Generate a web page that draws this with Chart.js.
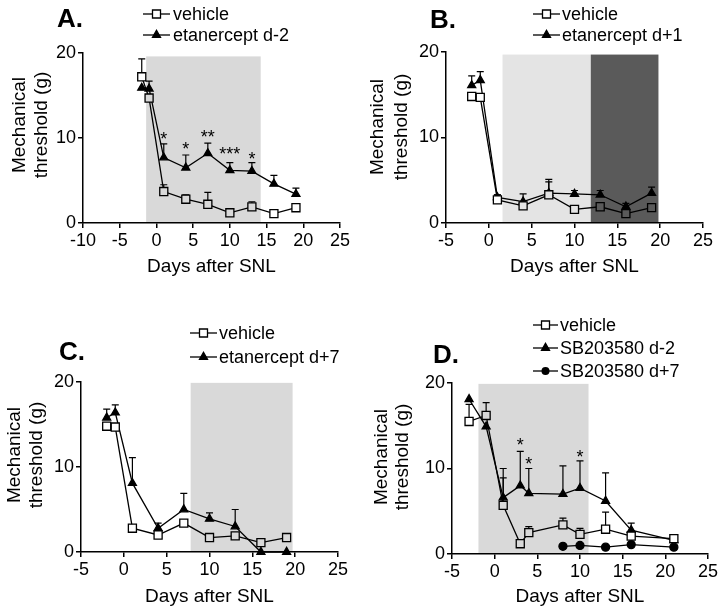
<!DOCTYPE html>
<html><head><meta charset="utf-8">
<script src="https://cdn.jsdelivr.net/npm/chart.js@4.4.1/dist/chart.umd.min.js"></script>
<style>
html,body{margin:0;padding:0;background:#fff;}
#wrap{position:relative;width:720px;height:612px;overflow:hidden;background:#fff;}
canvas{position:absolute;}
</style></head><body>
<div id="wrap">
<canvas id="cA" width="360" height="300" style="left:0px;top:0px;width:360px;height:300px"></canvas>
<canvas id="cB" width="360" height="300" style="left:360px;top:0px;width:360px;height:300px"></canvas>
<canvas id="cC" width="360" height="312" style="left:0px;top:300px;width:360px;height:312px"></canvas>
<canvas id="cD" width="360" height="312" style="left:360px;top:300px;width:360px;height:312px"></canvas>
</div>
<script>
// ---------------- DATA ----------------
// Panel A
const daysA = [-2, -1, 1, 4, 7, 10, 13, 16, 19];
const vehicleA = [17.2, 14.7, 3.7, 2.8, 2.2, 1.2, 1.9, 1.1, 1.8];
const vehicleSemA = [2.1, 0, 0.8, 0.5, 1.4, 0, 0.6, 0, 0.3];
const etanerceptA = [15.9, 15.8, 7.7, 6.5, 8.2, 6.2, 6.1, 4.6, 3.4];
const etanerceptSemA = [0, 0.9, 1.6, 1.5, 1.2, 0.9, 1.0, 1.0, 0.7];
const starDaysA = [1, 4, 7, 10, 13];
const starLevelA = [10.4, 9.2, 10.6, 8.6, 8.0];
const starTextA = ['*', '*', '**', '***', '*'];
const shadeA = [-1.4, 14.2, 19.6];

// Panel B
const daysB = [-2, -1, 1, 4, 7, 10, 13, 16, 19];
const vehicleB = [14.8, 14.7, 2.7, 2.0, 3.3, 1.6, 1.9, 1.1, 1.8];
const vehicleSemB = [0, 0, 0.6, 0, 1.5, 0, 0.5, 0, 0];
const etanerceptB = [16.1, 16.7, 3.0, 2.5, 3.5, 3.4, 3.3, 1.9, 3.5];
const etanerceptSemB = [1.1, 1.0, 0.3, 0.9, 1.6, 0.4, 0.5, 0.4, 0.7];
const shadeLightB = [1.6, 11.9, 19.7];
const shadeDarkB = [11.9, 19.8, 19.7];

// Panel C
const daysC = [-2, -1, 1, 4, 7, 10, 13, 16, 19];
const vehicleC = [14.8, 14.7, 2.8, 2.0, 3.4, 1.7, 1.9, 1.1, 1.7];
const vehicleSemC = [0, 0, 0, 0, 0, 0, 0, 0, 0.3];
const etanerceptC = [15.8, 16.4, 8.1, 2.8, 5.0, 3.9, 3.0, 0, 0];
const etanerceptSemC = [1.0, 0.9, 3.0, 0.6, 1.9, 0.7, 2.0, 0, 0];
const shadeC = [7.8, 19.7, 19.9];

// Panel D
const daysD = [-3, -1, 1, 3, 4, 8, 10, 13, 16, 21];
const vehicleD = [15.5, 16.2, 5.7, 1.2, 2.5, 3.4, 2.3, 2.9, 2.1, 1.8];
const vehicleSemD = [2.0, 1.5, 3.2, 0, 0.7, 0.8, 0.7, 2.0, 0, 0];
const sbPreD = [18.1, 14.9, 6.6, 8.0, 7.1, 7.0, 7.7, 6.2, 2.8, 1.6];
const sbPreSemD = [0, 0, 3.4, 4.0, 2.9, 3.3, 3.2, 3.3, 0.8, 0];
const daysPostD = [8, 10, 13, 16, 21];
const sbPostD = [0.9, 1.0, 0.8, 1.1, 0.8];
const starDaysD = [3, 4, 10];
const starLevelD = [13.2, 11.0, 11.8];
const starTextD = ['*', '*', '*'];
const shadeD = [-1.9, 11.0, 19.9];

const xTicksA = [-10, 25];
const xTicksBCD = [-5, 25];

// ---------------- DRAWING ----------------
const F = 'Arial, "Liberation Sans", Helvetica, sans-serif';
const LIGHT = '#d9d9d9';

function pts(days, vals) { return days.map((d, i) => ({x: d, y: vals[i]})); }

function drawMarker(ctx, style, x, y) {
  ctx.save();
  ctx.lineWidth = 1.3; ctx.strokeStyle = '#000'; ctx.fillStyle = '#000';
  ctx.beginPath();
  if (style === 'rect') {
    const s = 4;
    ctx.fillStyle = '#fff';
    ctx.rect(x - s, y - s, 2 * s, 2 * s); ctx.fill(); ctx.stroke();
  } else if (style === 'triangle') {
    const r = 4.6;
    ctx.moveTo(x, y - r); ctx.lineTo(x + 0.866 * r, y + 0.5 * r); ctx.lineTo(x - 0.866 * r, y + 0.5 * r);
    ctx.closePath(); ctx.fill(); ctx.stroke();
  } else {
    ctx.arc(x, y, 4, 0, Math.PI * 2); ctx.fill();
  }
  ctx.restore();
}

function makePanel(id, p) {
  const shadeColorAt = (xv) => {
    let c = '#ffffff';
    p.shades.forEach(s => { if (xv >= s[0] && xv <= s[1]) c = s[3]; });
    return c;
  };
  const decor = {
    id: 'decor' + id,
    beforeDraw(chart) {
      const {ctx, scales: {x, y}} = chart;
      ctx.save();
      p.shades.forEach(s => {
        const x0 = x.getPixelForValue(s[0]), x1 = x.getPixelForValue(s[1]);
        const yt = y.getPixelForValue(s[2]), yb = y.getPixelForValue(0);
        ctx.fillStyle = s[3];
        ctx.fillRect(x0, yt, x1 - x0, yb - yt);
      });
      ctx.restore();
    },
    beforeDatasetsDraw(chart) {
      const {ctx, scales: {x, y}} = chart;
      ctx.save();
      ctx.strokeStyle = '#000'; ctx.lineWidth = 1.2;
      p.errors.forEach(e => {
        e.days.forEach((d, i) => {
          const sem = e.sem[i];
          if (!sem) return;
          const px = x.getPixelForValue(d);
          const p0 = y.getPixelForValue(e.vals[i]);
          const p1 = y.getPixelForValue(e.vals[i] + sem);
          ctx.beginPath();
          ctx.moveTo(px, p0); ctx.lineTo(px, p1);
          ctx.moveTo(px - 3.5, p1); ctx.lineTo(px + 3.5, p1);
          ctx.stroke();
        });
      });
      ctx.restore();
    },
    afterDraw(chart) {
      const {ctx, scales: {x, y}, chartArea} = chart;
      ctx.save();
      ctx.fillStyle = '#000';
      // panel label
      ctx.font = 'bold 26px ' + F;
      ctx.textAlign = 'left'; ctx.textBaseline = 'alphabetic';
      ctx.fillText(p.label, p.labelPos[0], p.labelPos[1]);
      // legend
      ctx.font = '18px ' + F;
      ctx.textBaseline = 'middle';
      p.legend.forEach((item, i) => {
        const yy = p.legendY[i];
        ctx.strokeStyle = '#000'; ctx.lineWidth = 1.3;
        ctx.beginPath(); ctx.moveTo(p.legendX[0], yy); ctx.lineTo(p.legendX[1], yy); ctx.stroke();
        drawMarker(ctx, item[1], (p.legendX[0] + p.legendX[1]) / 2, yy);
        ctx.fillStyle = '#000';
        ctx.fillText(item[0], p.legendX[2], yy + 1);
      });
      // y axis title
      ctx.font = '19px ' + F;
      ctx.textAlign = 'center'; ctx.textBaseline = 'middle';
      const lines = ['Mechanical', 'threshold (g)'];
      lines.forEach((t, i) => {
        ctx.save();
        ctx.translate(p.yTitleX[i], p.yTitleY);
        ctx.rotate(-Math.PI / 2);
        ctx.fillText(t, 0, 0);
        ctx.restore();
      });
      // significance stars
      if (p.stars) {
        ctx.font = '18px ' + F;
        ctx.textAlign = 'center'; ctx.textBaseline = 'alphabetic';
        p.stars.days.forEach((d, i) => {
          ctx.fillText(p.stars.text[i], x.getPixelForValue(d), y.getPixelForValue(p.stars.level[i]) + 10);
        });
      }
      ctx.restore();
    }
  };

  const datasets = p.series.map(s => ({
    label: s.label,
    data: s.data,
    borderColor: '#000',
    borderWidth: 1.3,
    pointStyle: s.style,
    pointRadius: s.style === 'rect' ? 5.7 : (s.style === 'triangle' ? 4.6 : 4),
    pointBorderWidth: 1.3,
    pointBorderColor: '#000',
    pointBackgroundColor: s.style === 'rect' ? (c => (c.raw ? shadeColorAt(c.raw.x) : '#fff')) : '#000',
    showLine: true,
    tension: 0,
    fill: false,
    clip: false
  }));

  const axisCommon = {
    grid: {display: true, drawOnChartArea: false, drawTicks: true, tickLength: 5, color: '#000', lineWidth: 1.5},
    border: {display: true, color: '#000', width: 1.5}
  };

  return new Chart(document.getElementById(id), {
    type: 'scatter',
    data: {datasets},
    options: {
      responsive: false,
      animation: false,
      devicePixelRatio: 1,
      events: [],
      layout: {padding: p.padding},
      plugins: {legend: {display: false}, tooltip: {enabled: false}, title: {display: false}},
      scales: {
        x: Object.assign({
          type: 'linear', min: p.xRange[0], max: p.xRange[1],
          afterFit: s => { s.height = p.xH; },
          ticks: {stepSize: 5, font: {size: 18, family: F}, color: '#000', padding: 2, maxRotation: 0, autoSkip: false},
          title: {display: true, text: 'Days after SNL', font: {size: 19, family: F}, color: '#000', padding: {top: 0, bottom: p.xTitlePad}}
        }, axisCommon),
        y: Object.assign({
          type: 'linear', min: 0, max: 20,
          afterFit: s => { s.width = p.yW; },
          ticks: {stepSize: 10, font: {size: 18, family: F}, color: '#000', padding: 2}
        }, axisCommon)
      }
    },
    plugins: [decor]
  });
}

// Panel A
makePanel('cA', {
  label: 'A.', labelPos: [57, 27],
  legend: [['vehicle', 'rect'], ['etanercept d-2', 'triangle']],
  legendX: [143, 170, 173], legendY: [14, 35],
  yTitleX: [20, 42], yTitleY: 125,
  padding: {left: 28, right: 20, top: 53, bottom: 17},
  yW: 55, xH: 60, xTitlePad: 5,
  xRange: xTicksA,
  shades: [[shadeA[0], shadeA[1], shadeA[2], LIGHT]],
  series: [
    {label: 'vehicle', data: pts(daysA, vehicleA), style: 'rect'},
    {label: 'etanercept d-2', data: pts(daysA, etanerceptA), style: 'triangle'}
  ],
  errors: [
    {days: daysA, vals: vehicleA, sem: vehicleSemA},
    {days: daysA, vals: etanerceptA, sem: etanerceptSemA}
  ],
  stars: {days: starDaysA, level: starLevelA, text: starTextA}
});

// Panel B
makePanel('cB', {
  label: 'B.', labelPos: [70, 28],
  legend: [['vehicle', 'rect'], ['etanercept d+1', 'triangle']],
  legendX: [173, 200, 202], legendY: [14, 35],
  yTitleX: [18, 42], yTitleY: 127,
  padding: {left: 31, right: 17, top: 52, bottom: 17},
  yW: 55, xH: 60, xTitlePad: 5,
  xRange: xTicksBCD,
  shades: [[shadeLightB[0], shadeLightB[1], shadeLightB[2], '#e4e4e4'],
           [shadeDarkB[0], shadeDarkB[1], shadeDarkB[2], '#5a5a5a']],
  series: [
    {label: 'vehicle', data: pts(daysB, vehicleB), style: 'rect'},
    {label: 'etanercept d+1', data: pts(daysB, etanerceptB), style: 'triangle'}
  ],
  errors: [
    {days: daysB, vals: vehicleB, sem: vehicleSemB},
    {days: daysB, vals: etanerceptB, sem: etanerceptSemB}
  ]
});

// Panel C
makePanel('cC', {
  label: 'C.', labelPos: [59, 60],
  legend: [['vehicle', 'rect'], ['etanercept d+7', 'triangle']],
  legendX: [190, 217, 219], legendY: [33, 57],
  yTitleX: [15, 37], yTitleY: 155,
  padding: {left: 26, right: 22, top: 82, bottom: 0},
  yW: 55, xH: 60, xTitlePad: 4,
  xRange: xTicksBCD,
  shades: [[shadeC[0], shadeC[1], shadeC[2], LIGHT]],
  series: [
    {label: 'vehicle', data: pts(daysC, vehicleC), style: 'rect'},
    {label: 'etanercept d+7', data: pts(daysC, etanerceptC), style: 'triangle'}
  ],
  errors: [
    {days: daysC, vals: vehicleC, sem: vehicleSemC},
    {days: daysC, vals: etanerceptC, sem: etanerceptSemC}
  ]
});

// Panel D
makePanel('cD', {
  label: 'D.', labelPos: [73, 63],
  legend: [['vehicle', 'rect'], ['SB203580 d-2', 'triangle'], ['SB203580 d+7', 'circle']],
  legendX: [173, 198, 200], legendY: [25, 48, 71],
  yTitleX: [22, 43], yTitleY: 157,
  padding: {left: 37, right: 11, top: 83, bottom: 0},
  yW: 55, xH: 58, xTitlePad: 4,
  xRange: xTicksBCD,
  shades: [[shadeD[0], shadeD[1], shadeD[2], LIGHT]],
  series: [
    {label: 'vehicle', data: pts(daysD, vehicleD), style: 'rect'},
    {label: 'SB203580 d-2', data: pts(daysD, sbPreD), style: 'triangle'},
    {label: 'SB203580 d+7', data: pts(daysPostD, sbPostD), style: 'circle'}
  ],
  errors: [
    {days: daysD, vals: vehicleD, sem: vehicleSemD},
    {days: daysD, vals: sbPreD, sem: sbPreSemD}
  ],
  stars: {days: starDaysD, level: starLevelD, text: starTextD}
});
</script>
</body></html>
